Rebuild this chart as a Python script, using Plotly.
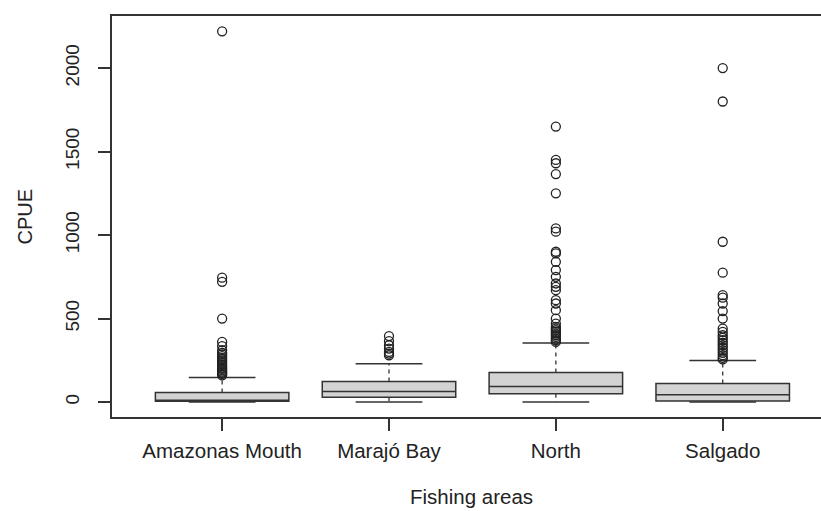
import plotly.graph_objects as go

# ---- data ----
areas = ["Amazonas Mouth", "Marajó Bay", "North", "Salgado"]
q1 = [6, 28, 50, 6]
median = [5, 63, 93, 44]
q3 = [57, 123, 177, 111]
lower_whisker = [0, 0, 0, 0]
upper_whisker = [147, 229, 353, 249]
outliers_amazonas = [160, 168, 175, 182, 190, 198, 205, 215, 225, 235, 245, 255,
                     265, 275, 285, 295, 310, 335, 360, 500, 720, 745, 2220]
outliers_marajo = [280, 290, 300, 320, 340, 365, 395]
outliers_north = [360, 370, 380, 390, 400, 410, 420, 430, 440, 450, 470, 500, 550,
                  590, 610, 670, 690, 710, 750, 790, 840, 890, 900, 1020, 1040,
                  1250, 1365, 1430, 1450, 1650]
outliers_salgado = [255, 265, 280, 295, 310, 325, 340, 355, 370, 385, 400, 420,
                    440, 500, 545, 590, 625, 640, 775, 960, 1800, 2000]
outliers = [outliers_amazonas, outliers_marajo, outliers_north, outliers_salgado]
y_ticks = [0, 500, 1000, 1500, 2000]

# ---- styling ----
LINE = "#333333"
FILL = "#D3D3D3"
FONT = "Liberation Sans, Arial, sans-serif"
BOX_W = 0.8
CAP_W = 0.4

pos = list(range(1, len(areas) + 1))
fig = go.Figure()

# boxes
for i, p in enumerate(pos):
    fig.add_trace(go.Box(
        x=[p], q1=[min(q1[i], median[i])], median=[median[i]], q3=[q3[i]],
        lowerfence=[min(q1[i], median[i])], upperfence=[q3[i]],
        width=BOX_W, fillcolor=FILL, boxpoints=False,
        line=dict(color=LINE, width=1.5), hoverinfo="skip", showlegend=False,
    ))

# dashed whiskers
wx, wy = [], []
for i, p in enumerate(pos):
    wx += [p, p, None, p, p, None]
    wy += [q3[i], upper_whisker[i], None, min(q1[i], median[i]), lower_whisker[i], None]
fig.add_trace(go.Scatter(x=wx, y=wy, mode="lines",
                         line=dict(color=LINE, width=1.3, dash="4px,4px"),
                         hoverinfo="skip", showlegend=False))

# whisker caps
cx, cy = [], []
for i, p in enumerate(pos):
    for v in (upper_whisker[i], lower_whisker[i]):
        cx += [p - CAP_W / 2, p + CAP_W / 2, None]
        cy += [v, v, None]
fig.add_trace(go.Scatter(x=cx, y=cy, mode="lines",
                         line=dict(color=LINE, width=1.5),
                         hoverinfo="skip", showlegend=False))

# outliers
for i, p in enumerate(pos):
    fig.add_trace(go.Scatter(
        x=[p] * len(outliers[i]), y=outliers[i], mode="markers",
        marker=dict(symbol="circle-open", size=9, color="#222222",
                    line=dict(width=1.3, color="#222222")),
        showlegend=False,
    ))

fig.update_layout(
    width=821, height=511,
    margin=dict(l=112, r=0, t=16, b=94),
    paper_bgcolor="white", plot_bgcolor="white",
    font=dict(family=FONT, size=20, color="#222222"),
    xaxis=dict(
        range=[0.34, 4.589], tickmode="array", tickvals=pos, ticktext=areas,
        showgrid=False, zeroline=False, showline=True, mirror=True,
        linecolor=LINE, linewidth=1.5, ticks="outside", ticklen=12,
        tickcolor=LINE, tickwidth=1.5, tickfont=dict(size=20.5),
        ticklabelstandoff=3,
    ),
    yaxis=dict(
        range=[-89.7, 2312], tickmode="array", tickvals=y_ticks,
        showgrid=False, zeroline=False, showline=True,
        linecolor=LINE, linewidth=1.5, ticks="outside", ticklen=12,
        tickcolor=LINE, tickwidth=1.5, tickfont=dict(size=19),
        tickangle=-90, ticklabelstandoff=12,
    ),
    annotations=[
        dict(text="Fishing areas", xref="paper", yref="paper",
             x=(471 - 112) / 709, y=(417 - 510) / 401,
             xanchor="center", yanchor="bottom", showarrow=False,
             font=dict(size=20.5)),
        dict(text="CPUE", xref="paper", yref="paper",
             x=(24 - 112) / 709, y=0.5, textangle=-90,
             xanchor="center", yanchor="middle", showarrow=False,
             font=dict(size=20)),
    ],
)

fig.write_html("out.html")
